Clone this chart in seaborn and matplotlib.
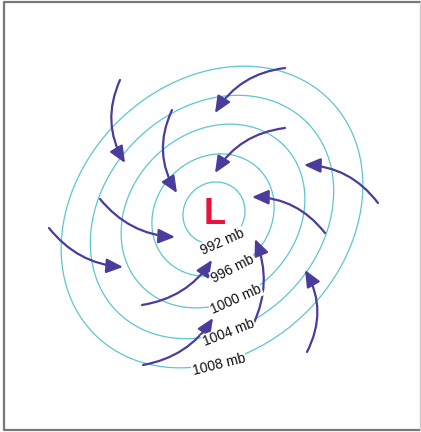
import numpy as np
import pandas as pd
import seaborn as sns
import matplotlib.pyplot as plt

# isobars (pixel-style coordinates, y grows downward)
isobars = [992, 996, 1000, 1004, 1008]
center_x = [214, 213, 213, 212, 212]
center_y = [213, 215, 216, 217, 217]
semi_major = [32, 65, 100, 134, 166]
semi_minor = [30, 57, 83, 108, 134]
tilt = -45  # degrees, major axis lower-left -> upper-right

label_x = [222, 233, 236, 229, 219]
label_y = [242, 269, 299, 333, 365]
label_rot = [24, 27, 24, 21, 14]

# inflow arrows: start -> end, curvature
arrow_x0 = [120, 172, 285, 285, 378, 325, 307, 253, 143, 142, 49, 100]
arrow_y0 = [80, 110, 68, 128, 203, 233, 352, 325, 365, 305, 228, 199]
arrow_x1 = [125, 177, 215, 215, 304, 252, 305, 255, 213, 212, 123, 175]
arrow_y1 = [163, 193, 113, 173, 165, 197, 270, 239, 318, 260, 267, 237]
arrow_rad = [0.26, 0.27, 0.24, 0.24, 0.24, 0.24, 0.27, 0.22, 0.22, 0.22, 0.22, 0.22]

sns.set_style("white")
plt.rcParams["font.family"] = ["Liberation Sans", "DejaVu Sans"]

rows = []
t = np.linspace(0, 2 * np.pi, 400)
phi = np.deg2rad(tilt)
for p, cx, cy, a, b in zip(isobars, center_x, center_y, semi_major, semi_minor):
    xs = cx + a * np.cos(t) * np.cos(phi) - b * np.sin(t) * np.sin(phi)
    ys = cy + a * np.cos(t) * np.sin(phi) + b * np.sin(t) * np.cos(phi)
    rows.append(pd.DataFrame({"x": xs, "y": ys, "isobar": p}))
df = pd.concat(rows, ignore_index=True)

fig = plt.figure(figsize=(4.21, 4.32), dpi=100)
ax = fig.add_axes([0, 0, 1, 1])

sns.lineplot(data=df, x="x", y="y", units="isobar", estimator=None, sort=False,
             color="#5cc6d0", lw=0.9, legend=False, ax=ax, zorder=2)

for x0, y0, x1, y1, r in zip(arrow_x0, arrow_y0, arrow_x1, arrow_y1, arrow_rad):
    ax.annotate("", xy=(x1, y1), xytext=(x0, y0),
                arrowprops=dict(arrowstyle="-|>,head_length=0.5,head_width=0.22",
                                connectionstyle=f"arc3,rad={r}",
                                color="#4a3c9c", lw=1.6, shrinkA=0, shrinkB=0,
                                mutation_scale=20),
                zorder=3)

for p, lx, ly, rot in zip(isobars, label_x, label_y, label_rot):
    ax.text(lx, ly, f"{p} mb", fontsize=10, rotation=rot, ha="center", va="center",
            rotation_mode="anchor", color="#111111", zorder=4,
            bbox=dict(boxstyle="square,pad=0.06", fc="white", ec="none"))

ax.text(215, 215, "L", fontsize=26, fontweight="bold", color="#e8133c",
        ha="center", va="center", zorder=5)

# frame: dark on left/top/bottom, faint on the right
ax.plot([420, 4, 4, 420], [1.5, 1.5, 430, 430], color="#777777", lw=1.6, zorder=6)
ax.plot([420, 420], [1.5, 430], color="#cccccc", lw=1.0, zorder=6)

ax.set_xlim(0, 421)
ax.set_ylim(432, 0)
ax.axis("off")

plt.savefig("out.png", dpi=100)
